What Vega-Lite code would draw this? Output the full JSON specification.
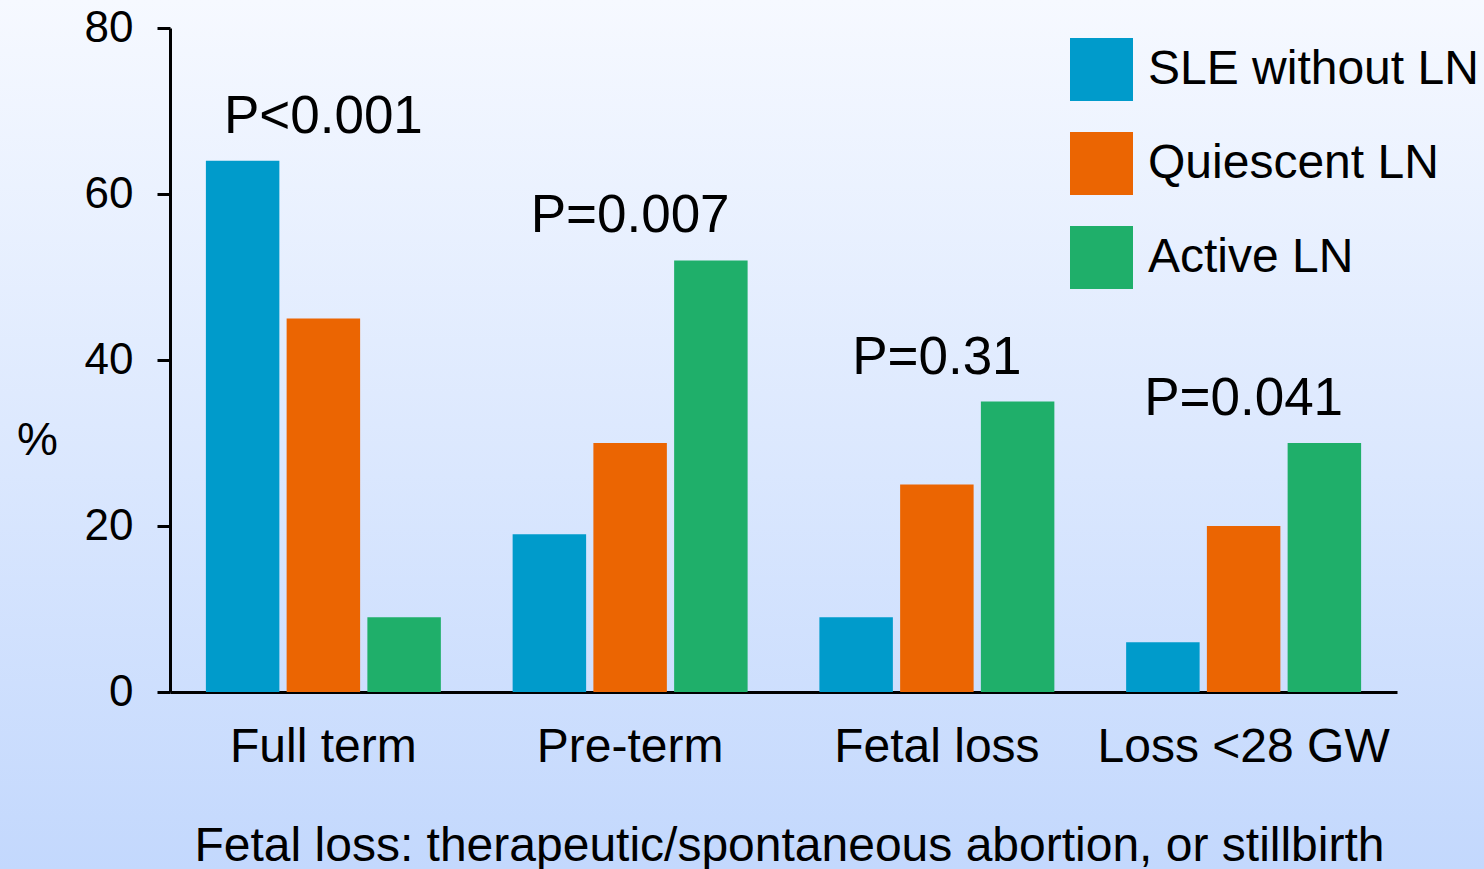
{
  "$schema": "https://vega.github.io/schema/vega-lite/v6.json",
  "width": 1484,
  "height": 869,
  "autosize": "none",
  "padding": 0,
  "background": "#C4D9FD",
  "config": {
    "font": "Liberation Sans",
    "view": {
      "stroke": null,
      "fill": {
        "gradient": "linear",
        "x1": 0, "y1": 0, "x2": 0, "y2": 1,
        "stops": [
          {"offset": 0, "color": "#F6F9FF"},
          {"offset": 1, "color": "#C3D8FD"}
        ]
      }
    }
  },
  "datasets": {
    "pvals": [
      {"cat": "Full term", "p": "P<0.001"},
      {"cat": "Pre-term", "p": "P=0.007"},
      {"cat": "Fetal loss", "p": "P=0.31"},
      {"cat": "Loss <28 GW", "p": "P=0.041"}
    ]
  },
  "data": {
    "values": [
      {"cat": "Full term", "group": "SLE without LN", "value": 64},
      {"cat": "Full term", "group": "Quiescent LN", "value": 45},
      {"cat": "Full term", "group": "Active LN", "value": 9},
      {"cat": "Pre-term", "group": "SLE without LN", "value": 19},
      {"cat": "Pre-term", "group": "Quiescent LN", "value": 30},
      {"cat": "Pre-term", "group": "Active LN", "value": 52},
      {"cat": "Fetal loss", "group": "SLE without LN", "value": 9},
      {"cat": "Fetal loss", "group": "Quiescent LN", "value": 25},
      {"cat": "Fetal loss", "group": "Active LN", "value": 35},
      {"cat": "Loss <28 GW", "group": "SLE without LN", "value": 6},
      {"cat": "Loss <28 GW", "group": "Quiescent LN", "value": 20},
      {"cat": "Loss <28 GW", "group": "Active LN", "value": 30}
    ]
  },
  "encoding": {
    "x": {
      "field": "cat",
      "type": "nominal",
      "sort": ["Full term", "Pre-term", "Fetal loss", "Loss <28 GW"],
      "scale": {"range": [170, 1397], "paddingInner": 0.234, "paddingOuter": 0.117},
      "axis": {
        "orient": "bottom",
        "offset": -177,
        "domainColor": "#000000",
        "domainWidth": 3,
        "ticks": false,
        "tickSize": 0,
        "labelAngle": 0,
        "labelFontSize": 48,
        "labelColor": "#000000",
        "labelPadding": 31,
        "labelLimit": 600,
        "labelOverlap": false,
        "title": "Fetal loss: therapeutic/spontaneous abortion, or stillbirth",
        "titleFontSize": 48,
        "titleFontWeight": "normal",
        "titleColor": "#000000",
        "titleX": 789,
        "titleY": 168,
        "titleAlign": "center",
        "titleBaseline": "alphabetic",
        "titleLimit": 2000
      }
    },
    "y": {
      "field": "value",
      "type": "quantitative",
      "scale": {"domain": [0, 80], "range": [692, 28], "nice": false},
      "axis": {
        "orient": "left",
        "offset": -170,
        "values": [0, 20, 40, 60, 80],
        "grid": false,
        "domainColor": "#000000",
        "domainWidth": 3,
        "tickColor": "#000000",
        "tickWidth": 3,
        "tickSize": 13,
        "labelFontSize": 44,
        "labelColor": "#000000",
        "labelPadding": 24,
        "title": "%",
        "titleAngle": 0,
        "titleFontSize": 46,
        "titleFontWeight": "normal",
        "titleColor": "#000000",
        "titleX": -133,
        "titleY": 440,
        "titleAlign": "center",
        "titleBaseline": "middle"
      }
    }
  },
  "layer": [
    {
      "mark": {"type": "bar"},
      "encoding": {
        "xOffset": {
          "field": "group",
          "type": "nominal",
          "sort": ["SLE without LN", "Quiescent LN", "Active LN"],
          "scale": {"paddingInner": 0.09, "paddingOuter": 0}
        },
        "color": {
          "field": "group",
          "type": "nominal",
          "sort": ["SLE without LN", "Quiescent LN", "Active LN"],
          "scale": {
            "domain": ["SLE without LN", "Quiescent LN", "Active LN"],
            "range": ["#009BCB", "#EB6502", "#1FAF6A"]
          },
          "legend": {
            "orient": "none",
            "legendX": 1070,
            "legendY": 38,
            "title": null,
            "padding": 0,
            "symbolType": "square",
            "symbolSize": 3969,
            "symbolStrokeWidth": 0,
            "symbolOpacity": 1,
            "labelFontSize": 48,
            "labelColor": "#000000",
            "labelOffset": 15,
            "labelLimit": 500,
            "rowPadding": 31
          }
        }
      }
    },
    {
      "transform": [
        {"aggregate": [{"op": "max", "field": "value", "as": "value"}], "groupby": ["cat"]},
        {"lookup": "cat", "from": {"data": {"name": "pvals"}, "key": "cat", "fields": ["p"]}}
      ],
      "mark": {"type": "text", "fontSize": 53, "color": "#000000", "baseline": "alphabetic", "dy": -28},
      "encoding": {
        "text": {"field": "p", "type": "nominal"}
      }
    }
  ]
}
